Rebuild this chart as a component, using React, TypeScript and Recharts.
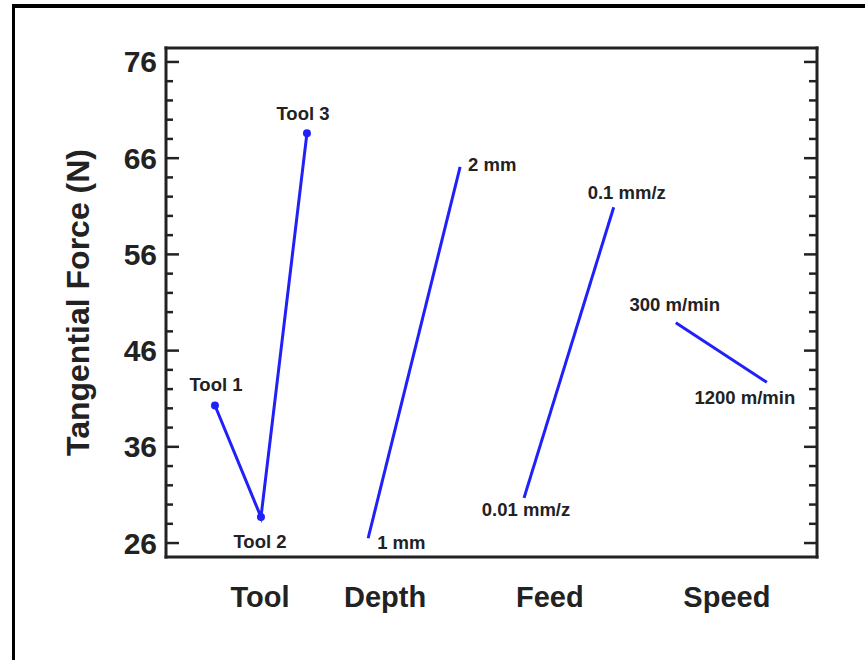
import { LabelList, Line, LineChart, XAxis, YAxis } from 'recharts';

// factor levels and tangential force
const toolLevels = ['Tool 1', 'Tool 2', 'Tool 3'];
const toolForce = [40.3, 28.7, 68.6];
const toolPos = [0, 1, 2];

const depthLevels = ['1 mm', '2 mm'];
const depthForce = [26.5, 65.1];
const depthPos = [3.33, 5.33];

const feedLevels = ['0.01 mm/z', '0.1 mm/z'];
const feedForce = [30.7, 60.9];
const feedPos = [6.72, 8.67];

const speedLevels = ['300 m/min', '1200 m/min'];
const speedForce = [48.9, 42.7];
const speedPos = [10.02, 12.0];

const factorNames = ['Tool', 'Depth', 'Feed', 'Speed'];
const factorTickPos = [0.98, 3.7, 7.28, 11.13];

const majorTicks = [26, 36, 46, 56, 66, 76];
const yTicks = [26, 28, 30, 32, 34, 36, 38, 40, 42, 44, 46, 48, 50, 52, 54, 56, 58, 60, 62, 64, 66, 68, 70, 72, 74, 76];

type Off = { dx: number; dy: number; anchor: 'start' | 'middle' | 'end' };
const toolOff: Off[] = [
  { dx: 1, dy: -21, anchor: 'middle' },
  { dx: -1, dy: 24, anchor: 'middle' },
  { dx: -4, dy: -20, anchor: 'middle' },
];
const depthOff: Off[] = [
  { dx: 9, dy: 4, anchor: 'start' },
  { dx: 8, dy: -2, anchor: 'start' },
];
const feedOff: Off[] = [
  { dx: 2, dy: 12, anchor: 'middle' },
  { dx: 13, dy: -15, anchor: 'middle' },
];
const speedOff: Off[] = [
  { dx: -1, dy: -18, anchor: 'middle' },
  { dx: -22, dy: 15, anchor: 'middle' },
];

const build = (names: string[], force: number[], pos: number[]) =>
  names.map((name, i) => ({ x: pos[i], y: force[i], name }));

const series = [
  { key: 'tool', data: build(toolLevels, toolForce, toolPos), off: toolOff, dot: true },
  { key: 'depth', data: build(depthLevels, depthForce, depthPos), off: depthOff, dot: false },
  { key: 'feed', data: build(feedLevels, feedForce, feedPos), off: feedOff, dot: false },
  { key: 'speed', data: build(speedLevels, speedForce, speedPos), off: speedOff, dot: false },
];

const FONT = '"Liberation Sans", Arial, sans-serif';
const INK = '#222';
const BLUE = '#2020f8';
const X_DOMAIN: [number, number] = [-1.065, 13.09];
const Y_DOMAIN: [number, number] = [24.55, 77.45];
const axisLine = { stroke: INK, strokeWidth: 3, strokeLinecap: 'square' as const };

function LeftTick(props: any) {
  const { x, y, payload } = props;
  const major = majorTicks.includes(payload.value);
  const ax = x + 9;
  return (
    <g>
      <line x1={ax} x2={ax + (major ? 13 : 7)} y1={y} y2={y} stroke={INK} strokeWidth={2.5} />
      {major && (
        <text x={x} y={y} textAnchor="end" dominantBaseline="central" fontFamily={FONT} fontWeight={700} fontSize={30} fill={INK}>
          {payload.value}
        </text>
      )}
    </g>
  );
}

function RightTick(props: any) {
  const { x, y, payload } = props;
  const major = majorTicks.includes(payload.value);
  return <line x1={x} x2={x - (major ? 13 : 8)} y1={y} y2={y} stroke={INK} strokeWidth={2.5} />;
}

function FactorTick(props: any) {
  const { x, y, payload } = props;
  return (
    <text x={x} y={y} dy="0.71em" textAnchor="middle" fontFamily={FONT} fontWeight={700} fontSize={29} fill={INK}>
      {factorNames[factorTickPos.indexOf(payload.value)]}
    </text>
  );
}

const makeLabel = (off: Off[]) => (props: any) => {
  const { x, y, index, value } = props;
  const o = off[index];
  return (
    <text x={x + o.dx} y={y + o.dy} textAnchor={o.anchor} dominantBaseline="central" fontFamily={FONT} fontWeight={700} fontSize={18.5} fill={INK}>
      {value}
    </text>
  );
};

export default function App() {
  return (
    <div style={{ position: 'relative', width: 850, height: 644, background: '#fff' }}>
      <LineChart width={850} height={644} margin={{ top: 39, right: 21, left: 98, bottom: 35 }}>
        <XAxis
          type="number"
          dataKey="x"
          domain={X_DOMAIN}
          allowDataOverflow
          ticks={factorTickPos}
          tick={<FactorTick />}
          tickLine={false}
          tickSize={0}
          tickMargin={29}
          axisLine={axisLine}
          height={60}
        />
        <XAxis xAxisId="top" orientation="top" type="number" domain={X_DOMAIN} allowDataOverflow tick={false} tickLine={false} axisLine={axisLine} height={1} />
        <YAxis
          type="number"
          domain={Y_DOMAIN}
          allowDataOverflow
          ticks={yTicks}
          interval={0}
          tick={<LeftTick />}
          tickLine={false}
          tickSize={0}
          tickMargin={9}
          axisLine={axisLine}
          width={60}
          label={{
            content: (p: any) => {
              const vb = p.viewBox;
              const cx = vb.x + vb.width - 88;
              const cy = vb.y + vb.height / 2;
              return (
                <text x={cx} y={cy} transform={`rotate(-90 ${cx} ${cy})`} textAnchor="middle" dominantBaseline="central" fontFamily={FONT} fontWeight={700} fontSize={32} fill={INK}>
                  Tangential Force (N)
                </text>
              );
            },
          }}
        />
        <YAxis
          yAxisId="right"
          orientation="right"
          type="number"
          domain={Y_DOMAIN}
          allowDataOverflow
          ticks={yTicks}
          interval={0}
          tick={<RightTick />}
          tickLine={false}
          tickSize={0}
          tickMargin={0}
          axisLine={axisLine}
          width={20}
        />
        {series.map((s) => (
          <Line
            key={s.key}
            data={s.data}
            dataKey="y"
            type="linear"
            stroke={BLUE}
            strokeWidth={3}
            dot={s.dot ? { r: 2.5, fill: BLUE, stroke: BLUE } : false}
            activeDot={false}
            isAnimationActive={false}
          >
            <LabelList dataKey="name" content={makeLabel(s.off)} />
          </Line>
        ))}
      </LineChart>
      <div
        style={{
          position: 'fixed',
          left: 12,
          top: 4,
          width: 850,
          height: 652,
          borderTop: '4px solid #000',
          borderLeft: '3px solid #000',
          pointerEvents: 'none',
          zIndex: 10,
        }}
      />
    </div>
  );
}
